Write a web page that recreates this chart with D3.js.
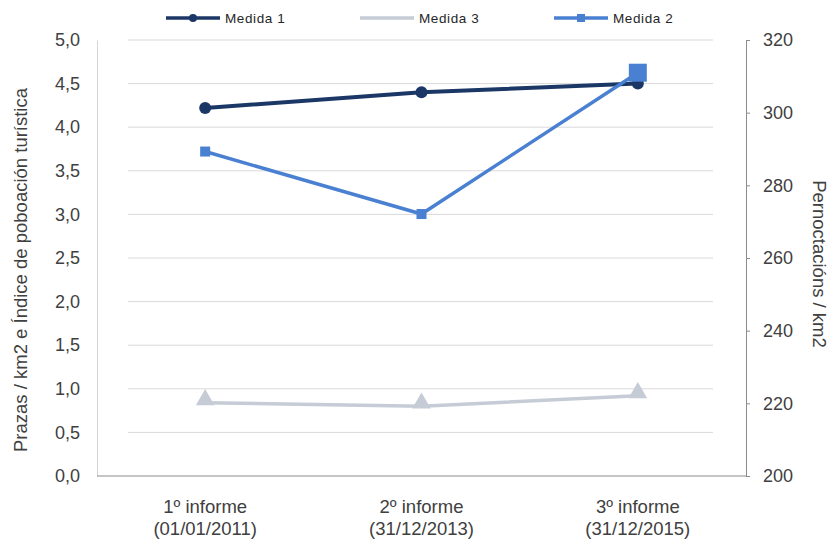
<!DOCTYPE html>
<html><head><meta charset="utf-8">
<script src="https://cdn.jsdelivr.net/npm/d3@7"></script>
<style>body{margin:0;background:#fff}svg{display:block;font-family:"Liberation Sans",Arial,sans-serif}</style>
</head><body><svg id="c" width="832" height="542"></svg>
<script>
const categories = [["1º informe","(01/01/2011)"],["2º informe","(31/12/2013)"],["3º informe","(31/12/2015)"]];
const medida1 = [4.22, 4.40, 4.50];
const medida3 = [0.84, 0.80, 0.92];
const medida2 = [289.3, 272.1, 311.0];
const leftTicks = [0,0.5,1,1.5,2,2.5,3,3.5,4,4.5,5];
const rightTicks = [200,220,240,260,280,300,320];

const svg = d3.select("#c");
const L = 97, R = 746, T = 40, B = 476;
const x = d3.scaleBand().domain(d3.range(categories.length)).range([L, R]);
const yL = d3.scaleLinear().domain([0,5]).range([B, T]);
const yR = d3.scaleLinear().domain([200,320]).range([B, T]);
const cx = i => x(i) + x.bandwidth()/2;

// gridlines
svg.append("g").selectAll("line").data(leftTicks.filter(d=>d>0)).join("line")
  .attr("x1",128).attr("x2",713).attr("y1",d=>yL(d)).attr("y2",d=>yL(d))
  .attr("stroke","#d9d9d9").attr("stroke-width",1);

// left axis
const gl = svg.append("g").attr("transform",`translate(${L},0)`)
  .call(d3.axisLeft(yL).tickValues(leftTicks).tickSize(0).tickPadding(17).tickFormat(d=>d3.format(".1f")(d).replace(".",",")));
gl.select(".domain").attr("stroke","#d4d4d4");
gl.selectAll("text").attr("font-size",18).attr("fill","#404040").attr("font-family","Liberation Sans, Arial");

// right axis
const gr = svg.append("g").attr("transform",`translate(${R},0)`)
  .call(d3.axisRight(yR).tickValues(rightTicks).tickSize(4).tickPadding(13).tickSizeOuter(0));
gr.select(".domain").attr("stroke","#8c8c8c");
gr.selectAll("line").attr("stroke","#8c8c8c");
gr.selectAll("text").attr("font-size",18).attr("fill","#404040").attr("font-family","Liberation Sans, Arial");

// baseline / x axis
svg.append("line").attr("x1",L).attr("x2",R).attr("y1",B).attr("y2",B).attr("stroke","#8c8c8c");
const xl = svg.append("g");
categories.forEach((c,i)=>{
  const t = xl.append("text").attr("x",cx(i)).attr("y",513).attr("text-anchor","middle")
    .attr("font-size",18.5).attr("fill","#404040");
  t.append("tspan").attr("x",cx(i)).attr("dy",0).text(c[0]);
  t.append("tspan").attr("x",cx(i)).attr("dy",22).text(c[1]);
});

// axis titles
svg.append("text").attr("transform",`translate(27,${(T+B)/2+12}) rotate(-90)`).attr("text-anchor","middle")
  .attr("font-size",18.5).attr("fill","#404040").text("Prazas / km2 e Índice de poboación turística");
svg.append("text").attr("transform",`translate(813,${(T+B)/2+6}) rotate(90)`).attr("text-anchor","middle")
  .attr("font-size",18.5).attr("fill","#404040").text("Pernoctacións / km2");

// series
const c1 = "#1b3766", c2 = "#4a80d2", c3 = "#c5ccd6";
const line = (y, data) => d3.line().x((d,i)=>cx(i)).y(d=>y(d))(data);

svg.append("path").attr("d",line(yL,medida3)).attr("fill","none").attr("stroke",c3).attr("stroke-width",3.5);
svg.append("g").selectAll("path").data(medida3).join("path")
  .attr("transform",(d,i)=>`translate(${cx(i)},${yL(d)-3})`)
  .attr("d",d3.symbol(d3.symbolTriangle,150)).attr("fill",c3);

svg.append("path").attr("d",line(yL,medida1)).attr("fill","none").attr("stroke",c1).attr("stroke-width",4);
svg.append("g").selectAll("circle").data(medida1).join("circle")
  .attr("cx",(d,i)=>cx(i)).attr("cy",d=>yL(d)).attr("r",6).attr("fill",c1);

svg.append("path").attr("d",line(yR,medida2)).attr("fill","none").attr("stroke",c2).attr("stroke-width",3.5);
svg.append("g").selectAll("rect").data(medida2).join("rect")
  .each(function(d,i){
    const s = i===2 ? 18 : 10;
    d3.select(this).attr("x",cx(i)-s/2).attr("y",yR(d)-s/2).attr("width",s).attr("height",s);
  }).attr("fill",c2);

// legend
const legend = [["Medida 1",c1,"circle"],["Medida 3",c3,"none"],["Medida 2",c2,"rect"]];
const lx = [166, 360, 554];
legend.forEach((d,i)=>{
  const g = svg.append("g").attr("transform",`translate(${lx[i]},18)`);
  g.append("line").attr("x1",0).attr("x2",54).attr("stroke",d[1]).attr("stroke-width",3.5);
  if(d[2]==="circle") g.append("circle").attr("cx",27).attr("r",4).attr("fill",d[1]);
  if(d[2]==="rect") g.append("rect").attr("x",23).attr("y",-4).attr("width",8).attr("height",8).attr("fill",d[1]);
  g.append("text").attr("x",59).attr("y",5).attr("font-size",13.5).attr("fill","#262626").attr("letter-spacing",0.6).text(d[0]);
});
</script></body></html>
